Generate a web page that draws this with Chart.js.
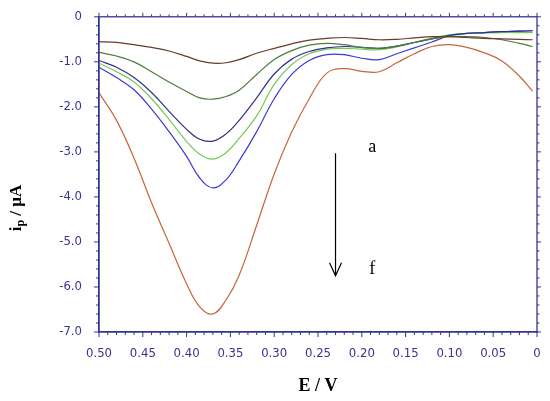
<!DOCTYPE html>
<html>
<head>
<meta charset="utf-8">
<script src="https://cdn.jsdelivr.net/npm/chart.js@4/dist/chart.umd.min.js"></script>
<style>
  body { margin: 0; background: #fff; }
  #wrap { width: 550px; height: 401px; }
</style>
</head>
<body>
<div id="wrap"><canvas id="dpv" width="550" height="401"></canvas></div>
<script>
'use strict';

// potential (V), shared by every curve
const potential = [0.50, 0.48, 0.46, 0.44, 0.42, 0.40, 0.385, 0.37, 0.355, 0.34, 0.32, 0.30,
  0.28, 0.26, 0.24, 0.22, 0.20, 0.18, 0.16, 0.14, 0.12, 0.10, 0.08, 0.06, 0.04, 0.02, 0.005];

// peak currents (uA), curves a..f
const curveA = [-0.55, -0.57, -0.62, -0.68, -0.76, -0.88, -0.98, -1.03, -1.02, -0.95, -0.81, -0.70,
  -0.60, -0.52, -0.48, -0.46, -0.48, -0.51, -0.50, -0.47, -0.44, -0.44, -0.46, -0.48, -0.49, -0.50, -0.51];
const curveB = [-0.79, -0.87, -1.00, -1.22, -1.45, -1.66, -1.80, -1.83, -1.77, -1.63, -1.28, -0.95,
  -0.75, -0.63, -0.59, -0.62, -0.68, -0.70, -0.65, -0.57, -0.49, -0.44, -0.44, -0.46, -0.51, -0.59, -0.66];
const curveC = [-0.97, -1.12, -1.35, -1.68, -2.10, -2.50, -2.72, -2.76, -2.60, -2.30, -1.80, -1.27,
  -0.94, -0.77, -0.69, -0.66, -0.68, -0.70, -0.65, -0.57, -0.49, -0.41, -0.37, -0.35, -0.33, -0.32, -0.31];
const curveD = [-1.03, -1.22, -1.45, -1.82, -2.28, -2.77, -3.05, -3.16, -3.02, -2.70, -2.20, -1.50,
  -1.06, -0.82, -0.72, -0.70, -0.72, -0.73, -0.67, -0.57, -0.47, -0.40, -0.37, -0.36, -0.35, -0.35, -0.35];
const curveE = [-1.12, -1.35, -1.62, -2.05, -2.55, -3.10, -3.58, -3.80, -3.62, -3.20, -2.55, -1.82,
  -1.28, -0.97, -0.84, -0.84, -0.92, -0.95, -0.82, -0.69, -0.56, -0.42, -0.37, -0.35, -0.33, -0.32, -0.31];
const curveF = [-1.69, -2.30, -3.14, -4.13, -5.03, -5.93, -6.44, -6.60, -6.29, -5.74, -4.63, -3.49,
  -2.56, -1.82, -1.25, -1.15, -1.21, -1.22, -1.02, -0.82, -0.66, -0.62, -0.68, -0.80, -0.98, -1.32, -1.65];

const curveNames = ['a', 'b', 'c', 'd', 'e', 'f'];
const curveColors = ['#6a3b2b', '#4d7d3d', '#30308c', '#78c858', '#3a3ad2', '#c8643c'];

const AXIS = '#35358f';
const LABEL_FONT = "'Liberation Sans Narrow', 'DejaVu Sans Condensed', 'Arial Narrow', 'Liberation Sans', sans-serif";

const datasets = [curveA, curveB, curveC, curveD, curveE, curveF].map((vals, i) => ({
  label: curveNames[i],
  data: vals.map((v, k) => ({x: potential[k], y: v})),
  borderColor: curveColors[i],
  borderWidth: 1.2,
  pointRadius: 0,
  fill: false,
  tension: 0.4
}));

// minor/major ticks on all four sides, plus the annotations
const framePlugin = {
  id: 'frame',
  afterDraw(chart) {
    const ctx = chart.ctx;
    const xs = chart.scales.x, ys = chart.scales.y;
    const a = chart.chartArea;
    ctx.save();
    ctx.strokeStyle = AXIS;
    ctx.lineWidth = 1.3;
    ctx.strokeRect(a.left, a.top, a.right - a.left, a.bottom - a.top);
    ctx.lineWidth = 1;
    ctx.beginPath();
    for (let k = 0; k <= 50; k++) {
      const px = xs.getPixelForValue(k / 100);
      const major = k % 5 === 0;
      ctx.moveTo(px, a.bottom); ctx.lineTo(px, a.bottom + (major ? 5 : 3));
      ctx.moveTo(px, a.top); ctx.lineTo(px, a.top - (major ? 4 : 2.5));
    }
    for (let k = 0; k <= 35; k++) {
      const py = ys.getPixelForValue(-k / 5);
      const major = k % 5 === 0;
      ctx.moveTo(a.left, py); ctx.lineTo(a.left - (major ? 5 : 3), py);
      ctx.moveTo(a.right, py); ctx.lineTo(a.right + (major ? 4 : 2.5), py);
    }
    ctx.stroke();

    // arrow from curve a to curve f
    const ax = xs.getPixelForValue(0.23);
    const y0 = ys.getPixelForValue(-3.03), y1 = ys.getPixelForValue(-5.75);
    ctx.strokeStyle = '#000';
    ctx.lineWidth = 1.2;
    ctx.beginPath();
    ctx.moveTo(ax, y0); ctx.lineTo(ax, y1);
    ctx.moveTo(ax - 6, y1 - 13); ctx.lineTo(ax, y1); ctx.lineTo(ax + 6, y1 - 13);
    ctx.stroke();

    ctx.fillStyle = '#000';
    ctx.font = "18px 'Liberation Serif', 'Times New Roman', serif";
    ctx.textAlign = 'center';
    ctx.textBaseline = 'middle';
    ctx.fillText('a', xs.getPixelForValue(0.188), ys.getPixelForValue(-2.89));
    ctx.fillText('f', xs.getPixelForValue(0.188), ys.getPixelForValue(-5.6));

    // y axis title: i_p / uA
    ctx.translate(17, 208);
    ctx.rotate(-Math.PI / 2);
    const big = "bold 17px 'Liberation Serif', 'Times New Roman', serif";
    const small = "bold 12px 'Liberation Serif', 'Times New Roman', serif";
    ctx.textAlign = 'left';
    ctx.textBaseline = 'middle';
    ctx.font = big;
    const w1 = ctx.measureText('i').width;
    const w3 = ctx.measureText(' / \u00b5A').width;
    ctx.font = small;
    const w2 = ctx.measureText('p').width;
    let cx = -(w1 + w2 + w3) / 2;
    ctx.font = big;
    ctx.fillText('i', cx, 0);
    cx += w1;
    ctx.font = small;
    ctx.fillText('p', cx, 4);
    cx += w2;
    ctx.font = big;
    ctx.fillText(' / \u00b5A', cx, 0);
    ctx.restore();
  }
};

new Chart(document.getElementById('dpv'), {
  type: 'line',
  data: {datasets},
  options: {
    responsive: false,
    animation: false,
    layout: {padding: {left: 0, top: 13, right: 13, bottom: 0}},
    plugins: {legend: {display: false}, tooltip: {enabled: false}},
    scales: {
      x: {
        type: 'linear',
        reverse: true,
        min: 0,
        max: 0.5,
        afterFit: s => { s.height = 69; },
        grid: {display: false},
        border: {display: true, color: AXIS, width: 1.3},
        ticks: {
          stepSize: 0.05,
          padding: 6,
          color: AXIS,
          font: {family: LABEL_FONT, size: 13},
          maxRotation: 0,
          callback: v => Math.abs(v) < 1e-9 ? '0' : v.toFixed(2)
        },
        title: {
          display: true,
          text: 'E / V',
          color: '#000',
          padding: {top: 18},
          font: {family: "'Liberation Serif', 'Times New Roman', serif", size: 18, weight: 'bold'}
        }
      },
      y: {
        min: -7,
        max: 0,
        afterFit: s => { s.width = 99; },
        grid: {display: false},
        border: {display: true, color: AXIS, width: 1.3},
        ticks: {
          stepSize: 1,
          padding: 9,
          color: AXIS,
          font: {family: LABEL_FONT, size: 13},
          callback: v => Math.abs(v) < 1e-9 ? '0' : v.toFixed(1)
        }
      }
    }
  },
  plugins: [framePlugin]
});
</script>
</body>
</html>
